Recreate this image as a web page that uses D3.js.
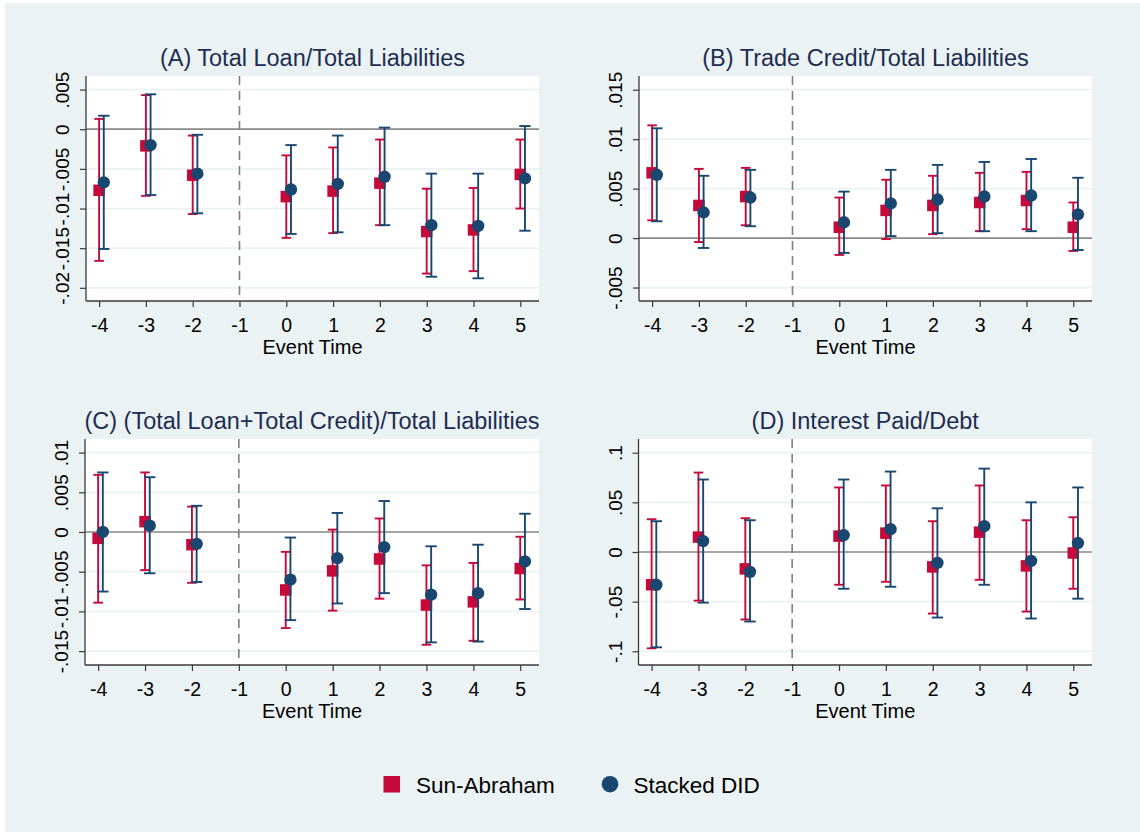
<!DOCTYPE html>
<html>
<head>
<meta charset="utf-8">
<script src="https://cdn.jsdelivr.net/npm/d3@7"></script>
<style>
  html, body { margin: 0; padding: 0; background: #ffffff; }
  svg { display: block; }
  text { font-family: "Liberation Sans", Arial, sans-serif; }
</style>
</head>
<body>
<svg id="chart" width="1140" height="832"></svg>
<script>
// ---- Data -------------------------------------------------------------
const eventTimes = [-4, -3, -2, 0, 1, 2, 3, 4, 5];
const xTickValues = [-4, -3, -2, -1, 0, 1, 2, 3, 4, 5];
const seriesNames = ["Sun-Abraham", "Stacked DID"];
const panelTitles = [
  "(A) Total Loan/Total Liabilities",
  "(B) Trade Credit/Total Liabilities",
  "(C) (Total Loan+Total Credit)/Total Liabilities",
  "(D) Interest Paid/Debt"
];

// (A) Total Loan / Total Liabilities
const aTicks = [-0.02, -0.015, -0.01, -0.005, 0, 0.005];
const aTickLabels = ["-.02", "-.015", "-.01", "-.005", "0", ".005"];
const aSaCoef = [-0.0077, -0.0021, -0.0058, -0.0085, -0.0078, -0.0068, -0.0129, -0.0127, -0.0057];
const aSaLow  = [-0.0166, -0.0084, -0.0107, -0.0137, -0.0131, -0.0121, -0.0182, -0.0179, -0.0100];
const aSaHigh = [ 0.0013,  0.0043, -0.0008, -0.0033, -0.0023, -0.0013, -0.0075, -0.0074, -0.0013];
const aSdCoef = [-0.0067, -0.0020, -0.0056, -0.0076, -0.0069, -0.0060, -0.0121, -0.0122, -0.0062];
const aSdLow  = [-0.0151, -0.0083, -0.0106, -0.0132, -0.0130, -0.0121, -0.0186, -0.0188, -0.0128];
const aSdHigh = [ 0.0017,  0.0044, -0.0007, -0.0020, -0.0008,  0.0002, -0.0056, -0.0056,  0.0004];

// (B) Trade Credit / Total Liabilities
const bTicks = [-0.005, 0, 0.005, 0.01, 0.015];
const bTickLabels = ["-.005", "0", ".005", ".01", ".015"];
const bSaCoef = [0.0066, 0.0033, 0.0042, 0.0011, 0.0028, 0.0033, 0.0036, 0.0038, 0.0011];
const bSaLow  = [0.0018, -0.0004, 0.0013, -0.0017, -0.0001, 0.0004, 0.0007, 0.0009, -0.0013];
const bSaHigh = [0.0114, 0.0070, 0.0071, 0.0041, 0.0059, 0.0063, 0.0066, 0.0067, 0.0036];
const bSdCoef = [0.0064, 0.0026, 0.0041, 0.0016, 0.0035, 0.0039, 0.0042, 0.0043, 0.0024];
const bSdLow  = [0.0017, -0.0010, 0.0012, -0.0015, 0.0002, 0.0005, 0.0007, 0.0007, -0.0012];
const bSdHigh = [0.0111, 0.0063, 0.0069, 0.0047, 0.0069, 0.0074, 0.0077, 0.0080, 0.0061];

// (C) (Total Loan + Total Credit) / Total Liabilities
const cTicks = [-0.015, -0.01, -0.005, 0, 0.005, 0.01];
const cTickLabels = ["-.015", "-.01", "-.005", "0", ".005", ".01"];
const cSaCoef = [-0.0008, 0.0013, -0.0016, -0.0073, -0.0049, -0.0034, -0.0092, -0.0088, -0.0046];
const cSaLow  = [-0.0089, -0.0048, -0.0064, -0.0121, -0.0099, -0.0084, -0.0142, -0.0137, -0.0085];
const cSaHigh = [ 0.0072,  0.0075,  0.0032, -0.0025,  0.0003,  0.0017, -0.0042, -0.0039, -0.0006];
const cSdCoef = [ 0.0000,  0.0008, -0.0015, -0.0060, -0.0033, -0.0019, -0.0079, -0.0077, -0.0037];
const cSdLow  = [-0.0075, -0.0052, -0.0063, -0.0111, -0.0090, -0.0077, -0.0139, -0.0138, -0.0097];
const cSdHigh = [ 0.0075,  0.0069,  0.0033, -0.0007,  0.0024,  0.0039, -0.0018, -0.0016,  0.0023];

// (D) Interest Paid / Debt
const dTicks = [-0.1, -0.05, 0, 0.05, 0.1];
const dTickLabels = ["-.1", "-.05", "0", ".05", ".1"];
const dSaCoef = [-0.033, 0.015, -0.017, 0.016, 0.019, -0.015, 0.020, -0.014, -0.001];
const dSaLow  = [-0.097, -0.049, -0.068, -0.033, -0.030, -0.062, -0.028, -0.060, -0.037];
const dSaHigh = [ 0.033, 0.080, 0.034, 0.065, 0.067, 0.031, 0.067, 0.032, 0.035];
const dSdCoef = [-0.033, 0.011, -0.020, 0.017, 0.023, -0.011, 0.026, -0.009, 0.009];
const dSdLow  = [-0.096, -0.051, -0.070, -0.037, -0.035, -0.066, -0.033, -0.067, -0.047];
const dSdHigh = [ 0.031, 0.073, 0.032, 0.073, 0.081, 0.044, 0.084, 0.050, 0.065];

// ---- Panel table built from the arrays above ---------------------------
const panels = [
  { title: panelTitles[0], ticks: aTicks, tickLabels: aTickLabels, yDomain: [-0.02166, 0.00671],
    series: [[aSaCoef, aSaLow, aSaHigh], [aSdCoef, aSdLow, aSdHigh]] },
  { title: panelTitles[1], ticks: bTicks, tickLabels: bTickLabels, yDomain: [-0.00636, 0.01639],
    series: [[bSaCoef, bSaLow, bSaHigh], [bSdCoef, bSdLow, bSdHigh]] },
  { title: panelTitles[2], ticks: cTicks, tickLabels: cTickLabels, yDomain: [-0.01675, 0.01171],
    series: [[cSaCoef, cSaLow, cSaHigh], [cSdCoef, cSdLow, cSdHigh]] },
  { title: panelTitles[3], ticks: dTicks, tickLabels: dTickLabels, yDomain: [-0.1138, 0.1138],
    series: [[dSaCoef, dSaLow, dSaHigh], [dSdCoef, dSdLow, dSdHigh]] }
];

// ---- Layout & style ------------------------------------------------------
const W = 1140, H = 832;
const bg = "#eaf2f3";
const colors = ["#c5093b", "#1a476f"];
const xOffsets = [0, 0.1];           // horizontal dodge of the two estimators
const xDomain = [-4.28, 5.4];
const plotRects = [
  { x0: 86,  x1: 539,  y0: 76,  y1: 301 },
  { x0: 639, x1: 1092, y0: 76,  y1: 301 },
  { x0: 85,  x1: 539,  y0: 439, y1: 665 },
  { x0: 638.5, x1: 1092, y0: 439, y1: 665 }
];

const svg = d3.select("#chart");

// graph region
svg.append("rect").attr("x", 0).attr("y", 0).attr("width", W).attr("height", H).attr("fill", "#ffffff");
svg.append("rect").attr("x", 5).attr("y", 3).attr("width", W - 5).attr("height", H - 3).attr("fill", bg);

panels.forEach((p, i) => {
  const r = plotRects[i];
  const g = svg.append("g");
  const x = d3.scaleLinear().domain(xDomain).range([r.x0, r.x1]);
  const y = d3.scaleLinear().domain(p.yDomain).range([r.y1, r.y0]);

  // plot region
  g.append("rect")
    .attr("x", r.x0).attr("y", r.y0)
    .attr("width", r.x1 - r.x0).attr("height", r.y1 - r.y0)
    .attr("fill", "#ffffff");

  // horizontal grid lines
  g.append("g").selectAll("line").data(p.ticks).join("line")
    .attr("x1", r.x0).attr("x2", r.x1)
    .attr("y1", d => y(d)).attr("y2", d => y(d))
    .attr("stroke", bg).attr("stroke-width", 1.8);

  // zero reference line
  g.append("line")
    .attr("x1", r.x0).attr("x2", r.x1)
    .attr("y1", y(0)).attr("y2", y(0))
    .attr("stroke", "#8c8c8c").attr("stroke-width", 1.7);

  // event-time reference (-1)
  g.append("line")
    .attr("x1", x(-1)).attr("x2", x(-1))
    .attr("y1", r.y0).attr("y2", r.y1)
    .attr("stroke", "#7f7f7f").attr("stroke-width", 1.6)
    .attr("stroke-dasharray", "9,6");

  // y axis
  const yAxis = d3.axisLeft(y).tickValues(p.ticks)
    .tickFormat((d, k) => p.tickLabels[k]).tickSize(6).tickPadding(0);
  const ya = g.append("g").attr("transform", `translate(${r.x0},0)`).call(yAxis);
  ya.select(".domain").attr("stroke", "#3a3a3a").attr("stroke-width", 1.3)
    .attr("d", `M0,${r.y0}V${r.y1}`);
  ya.selectAll(".tick line").attr("stroke", "#3a3a3a").attr("stroke-width", 1.2);
  ya.selectAll(".tick text")
    .attr("x", null).attr("dy", null)
    .attr("transform", "translate(-17,0) rotate(-90)")
    .attr("text-anchor", "middle")
    .attr("font-size", 19).attr("fill", "#000");

  // x axis
  const xAxis = d3.axisBottom(x).tickValues(xTickValues).tickFormat(d3.format("d")).tickSize(6).tickPadding(0);
  const xa = g.append("g").attr("transform", `translate(0,${r.y1})`).call(xAxis);
  xa.select(".domain").attr("stroke", "#3a3a3a").attr("stroke-width", 1.3)
    .attr("d", `M${r.x0},0H${r.x1}`);
  xa.selectAll(".tick line").attr("stroke", "#3a3a3a").attr("stroke-width", 1.2);
  xa.selectAll(".tick text")
    .attr("y", 31).attr("dy", null)
    .attr("font-size", 19.5).attr("fill", "#000");
  xa.selectAll(".tick text").text(d => d < 0 ? "-" + Math.abs(d) : String(d));

  // axis title
  g.append("text")
    .attr("x", (r.x0 + r.x1) / 2).attr("y", r.y1 + 52.5)
    .attr("text-anchor", "middle").attr("font-size", 20).attr("fill", "#000")
    .text("Event Time");

  // panel title
  g.append("text")
    .attr("x", (r.x0 + r.x1) / 2).attr("y", r.y0 - 10)
    .attr("text-anchor", "middle").attr("font-size", 23.5).attr("fill", "#1e2d52")
    .text(p.title);

  // estimates with confidence intervals
  p.series.forEach((s, si) => {
    const [coef, lo, hi] = s;
    const rows = eventTimes.map((t, k) => ({ t: t + xOffsets[si], c: coef[k], lo: lo[k], hi: hi[k] }));
    const sg = g.append("g");
    const col = colors[si];
    const capHalf = si === 0 ? 4.8 : 5.7;

    sg.selectAll("line.bar").data(rows).join("line").attr("class", "bar")
      .attr("x1", d => x(d.t)).attr("x2", d => x(d.t))
      .attr("y1", d => y(d.lo)).attr("y2", d => y(d.hi))
      .attr("stroke", col).attr("stroke-width", 1.9);
    sg.selectAll("line.capHi").data(rows).join("line").attr("class", "capHi")
      .attr("x1", d => x(d.t) - capHalf).attr("x2", d => x(d.t) + capHalf)
      .attr("y1", d => y(d.hi)).attr("y2", d => y(d.hi))
      .attr("stroke", col).attr("stroke-width", 1.9);
    sg.selectAll("line.capLo").data(rows).join("line").attr("class", "capLo")
      .attr("x1", d => x(d.t) - capHalf).attr("x2", d => x(d.t) + capHalf)
      .attr("y1", d => y(d.lo)).attr("y2", d => y(d.lo))
      .attr("stroke", col).attr("stroke-width", 1.9);

    if (si === 0) {
      const side = 11.5;
      sg.selectAll("rect.mk").data(rows).join("rect").attr("class", "mk")
        .attr("x", d => x(d.t) - side / 2).attr("y", d => y(d.c) - side / 2)
        .attr("width", side).attr("height", side)
        .attr("fill", col);
    } else {
      sg.selectAll("circle.mk").data(rows).join("circle").attr("class", "mk")
        .attr("cx", d => x(d.t)).attr("cy", d => y(d.c)).attr("r", 6.2)
        .attr("fill", col);
    }
  });
});

// ---- Legend ----------------------------------------------------------------
const legend = svg.append("g");
legend.append("rect").attr("x", 383.5).attr("y", 776).attr("width", 16.5).attr("height", 16.5).attr("fill", colors[0]);
legend.append("text").attr("x", 416).attr("y", 792.5).attr("font-size", 22.5).attr("fill", "#000").text(seriesNames[0]);
legend.append("circle").attr("cx", 610).attr("cy", 784.2).attr("r", 8.3).attr("fill", colors[1]);
legend.append("text").attr("x", 633.5).attr("y", 792.5).attr("font-size", 22.5).attr("fill", "#000").text(seriesNames[1]);
</script>
</body>
</html>
